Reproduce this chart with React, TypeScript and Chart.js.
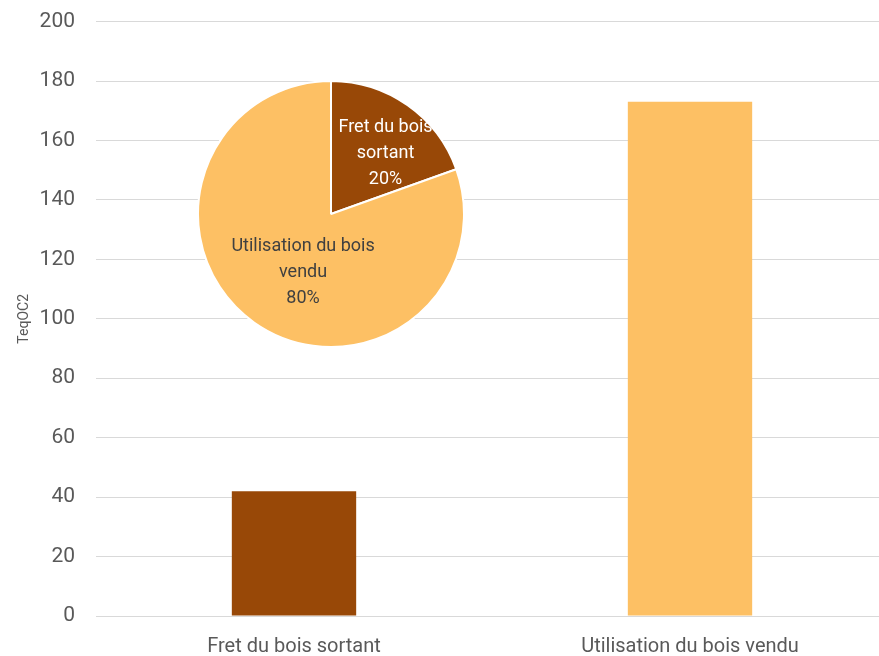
import React, { useEffect, useRef } from "react";
import { Chart, registerables } from "chart.js";

Chart.register(...registerables);

const categories = ["Fret du bois sortant", "Utilisation du bois vendu"];
const values = [42, 173];
const pieLabels = [["Fret du bois", "sortant"], ["Utilisation du bois", "vendu"]];
const colors = ["#984807", "#FDC064"];
const yTicks = { min: 0, max: 200, step: 20 };
const yTitle = "TeqOC2";

const FONT = "'Roboto', 'Liberation Sans', sans-serif";

export default function App() {
  const barRef = useRef<HTMLCanvasElement>(null);
  const pieRef = useRef<HTMLCanvasElement>(null);

  useEffect(() => {
    document.body.style.margin = "0";
    const bar = new Chart(barRef.current!, {
      type: "bar",
      data: {
        labels: categories,
        datasets: [
          {
            data: values,
            backgroundColor: colors,
            barPercentage: 0.314,
            categoryPercentage: 1,
          },
        ],
      },
      options: {
        responsive: false,
        animation: false,
        layout: { padding: { top: 1, right: 0, left: 10, bottom: 0 } },
        plugins: { legend: { display: false }, tooltip: { enabled: false } },
        scales: {
          x: {
            grid: { display: false, drawTicks: false },
            border: { display: false },
            ticks: { color: "#595959", font: { family: FONT, size: 20 }, padding: 19 },
          },
          y: {
            min: yTicks.min,
            max: yTicks.max,
            ticks: { stepSize: yTicks.step, color: "#595959", font: { family: FONT, size: 21 }, padding: 21 },
            grid: { color: "#d9d9d9", lineWidth: 1, drawTicks: false },
            border: { display: false },
            title: { display: true, text: yTitle, color: "#595959", font: { family: FONT, size: 14 }, padding: { top: 6, bottom: 8 } },
            afterFit: (scale: any) => {
              scale.width = 86;
            },
          },
        },
      },
    });

    const labelPlugin = {
      id: "pieLabels",
      afterDatasetsDraw(chart: any) {
        const ctx = chart.ctx;
        const meta = chart.getDatasetMeta(0);
        const total = values.reduce((a, b) => a + b, 0);
        const offs = [
          [0.41, -0.455],
          [-0.21, 0.44],
        ];
        const textColors = ["#ffffff", "#404040"];
        meta.data.forEach((arc: any, i: number) => {
          const r = arc.outerRadius;
          const cx = arc.x + offs[i][0] * r;
          const cy = arc.y + offs[i][1] * r;
          const pct = Math.round((values[i] / total) * 100) + "%";
          const lines = [...pieLabels[i], pct];
          ctx.save();
          ctx.font = `18px ${FONT}`;
          ctx.fillStyle = textColors[i];
          ctx.textAlign = "center";
          ctx.textBaseline = "middle";
          const lh = 26;
          lines.forEach((l, k) => {
            ctx.fillText(l, cx, cy + (k - (lines.length - 1) / 2) * lh);
          });
          ctx.restore();
        });
      },
    };

    const pie = new Chart(pieRef.current!, {
      type: "pie",
      data: {
        labels: categories,
        datasets: [
          {
            data: values,
            backgroundColor: colors,
            borderColor: "#ffffff",
            borderWidth: 2,
          },
        ],
      },
      options: {
        responsive: false,
        animation: false,
        layout: { padding: 1 },
        plugins: { legend: { display: false }, tooltip: { enabled: false } },
      },
      plugins: [labelPlugin],
    });

    return () => {
      bar.destroy();
      pie.destroy();
    };
  }, []);

  return (
    <div style={{ position: "relative", width: 879, height: 656, background: "#fff", overflow: "hidden" }}>
      <canvas ref={barRef} width={888} height={690} style={{ position: "absolute", left: 0, top: -12 }} />
      <canvas ref={pieRef} width={270} height={270} style={{ position: "absolute", left: 196, top: 79 }} />
    </div>
  );
}
